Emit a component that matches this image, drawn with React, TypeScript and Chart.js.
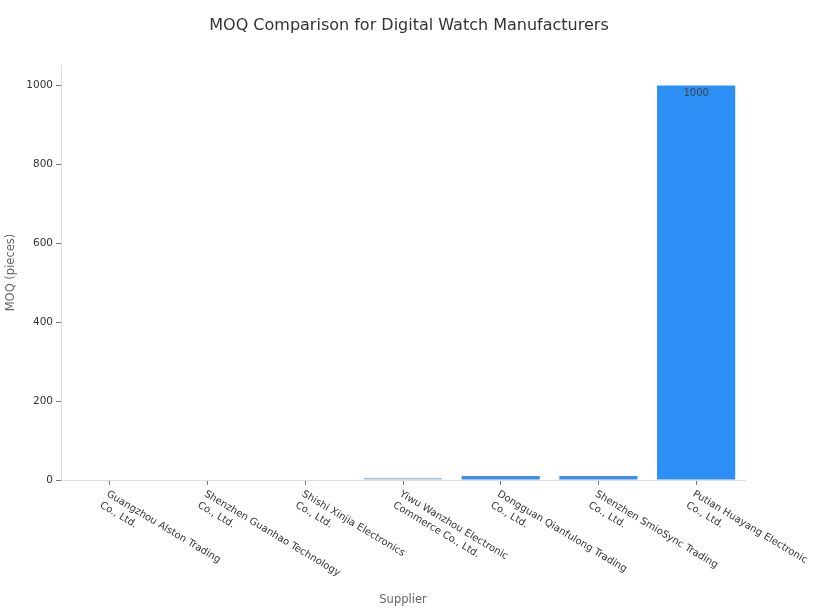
import { useRef, useEffect } from 'react';
import { Chart, registerables } from 'chart.js';

Chart.register(...registerables);

const suppliers = [
  ['Guangzhou Alston Trading', 'Co., Ltd.'],
  ['Shenzhen Guanhao Technology', 'Co., Ltd.'],
  ['Shishi Xinjia Electronics', 'Co., Ltd.'],
  ['Yiwu Wanzhou Electronic', 'Commerce Co., Ltd.'],
  ['Dongguan Qianfulong Trading', 'Co., Ltd.'],
  ['Shenzhen SmioSync Trading', 'Co., Ltd.'],
  ['Putian Huayang Electronic', 'Co., Ltd.'],
];
const moq = [1, 1, 1, 5, 10, 10, 1000];
const barColors = ['#dfe7ee', '#dfe7ee', '#dfe7ee', '#9cbfe0', '#3a8ee6', '#3a8ee6', '#2b8ff6'];
const yTicks = [0, 200, 400, 600, 800, 1000];

const FONT = "'DejaVu Sans', 'Noto Sans', sans-serif";

// title, labels, axis titles and value text drawn by hand
const extrasPlugin = {
  id: 'extras',
  afterDraw(chart: any) {
    const { ctx, chartArea } = chart;
    const x = chart.scales.x;
    ctx.save();

    ctx.fillStyle = '#333';
    ctx.font = `16px ${FONT}`;
    ctx.textAlign = 'center';
    ctx.textBaseline = 'middle';
    ctx.fillText('MOQ Comparison for Digital Watch Manufacturers', 409, 26);

    ctx.font = `10px ${FONT}`;
    ctx.textAlign = 'left';
    ctx.textBaseline = 'top';
    suppliers.forEach((lines, i) => {
      const px = x.getPixelForTick(i);
      ctx.save();
      ctx.translate(px, chartArea.bottom + 9);
      ctx.rotate((31 * Math.PI) / 180);
      lines.forEach((l, j) => ctx.fillText(l, 0, j * 13));
      ctx.restore();
    });

    // value labels inside the bars
    const meta = chart.getDatasetMeta(0);
    ctx.textAlign = 'center';
    ctx.textBaseline = 'middle';
    ctx.fillStyle = '#444';
    meta.data.forEach((bar: any, i: number) => {
      const h = bar.base - bar.y;
      if (h < 14) return;
      ctx.fillText(String(moq[i]), bar.x, bar.y + 8);
    });

    // axis titles
    ctx.fillStyle = '#666';
    ctx.font = `11.5px ${FONT}`;
    ctx.fillText('Supplier', (chartArea.left + chartArea.right) / 2, 600);
    ctx.save();
    ctx.translate(11, (chartArea.top + chartArea.bottom) / 2);
    ctx.rotate(-Math.PI / 2);
    ctx.fillText('MOQ (pieces)', 0, 0);
    ctx.restore();
    ctx.restore();
  },
};

export default function App() {
  const chartRef = useRef<HTMLCanvasElement>(null);
  const chartInstanceRef = useRef<Chart | null>(null);

  useEffect(() => {
    document.body.style.margin = '0';
    if (!chartRef.current) return;
    if (chartInstanceRef.current) chartInstanceRef.current.destroy();
    const ctx = chartRef.current.getContext('2d');
    if (!ctx) return;

    chartInstanceRef.current = new Chart(ctx, {
      type: 'bar',
      data: {
        labels: suppliers.map(s => s.join(' ')),
        datasets: [
          {
            label: 'MOQ',
            data: moq,
            backgroundColor: barColors,
            barPercentage: 0.8,
            categoryPercentage: 1.0,
          },
        ],
      },
      options: {
        responsive: false,
        animation: false,
        layout: { padding: { left: 0, right: 74, top: 65, bottom: 0 } },
        plugins: {
          legend: { display: false },
          tooltip: { enabled: false },
          title: { display: false },
        },
        scales: {
          x: {
            offset: true,
            grid: { display: true, offset: false, drawOnChartArea: false, tickLength: 5, tickColor: '#777' },
            border: { color: '#ddd' },
            ticks: { display: false },
            afterFit: (scale: any) => { scale.height = 134; },
          },
          y: {
            min: 0,
            max: 1052,
            grid: { drawOnChartArea: false, tickLength: 5, tickColor: '#777' },
            border: { color: '#ddd' },
            ticks: {
              stepSize: 200,
              padding: 3,
              color: '#333',
              font: { family: FONT, size: 10.5 },
              callback: (v: any) => String(v),
            },
            afterBuildTicks: (scale: any) => {
              scale.ticks = yTicks.map(v => ({ value: v }));
            },
            afterFit: (scale: any) => { scale.width = 61; },
          },
        },
      },
      plugins: [extrasPlugin],
    });

    return () => {
      if (chartInstanceRef.current) {
        chartInstanceRef.current.destroy();
        chartInstanceRef.current = null;
      }
    };
  }, []);

  return (
    <div style={{ width: 819, height: 614, background: '#fff' }}>
      <canvas ref={chartRef} width={819} height={614}></canvas>
    </div>
  );
}
